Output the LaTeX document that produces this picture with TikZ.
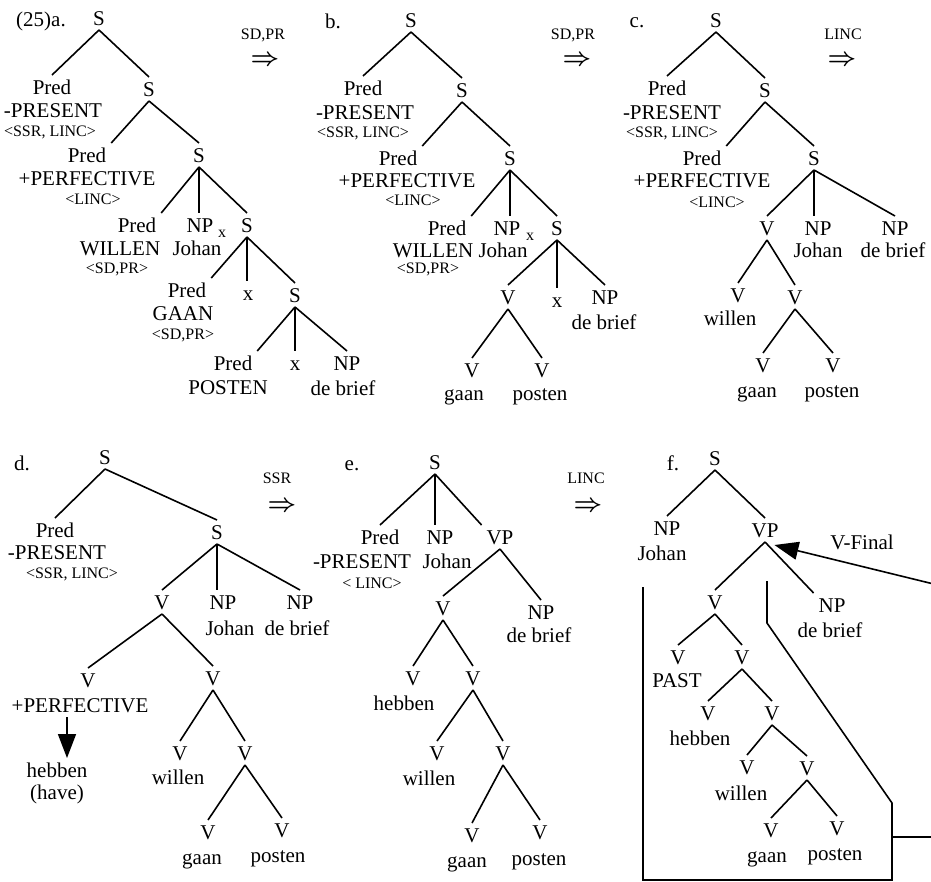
\documentclass[tikz,border=0pt]{standalone}
\usepackage{fontspec}
\setmainfont{Liberation Serif}
\usetikzlibrary{arrows.meta}
\newcommand\fs[1]{\fontsize{#1}{#1}\selectfont}
\begin{document}
\begin{tikzpicture}[x=1pt,y=-1pt,line width=1.6pt,
	cat/.style={font=\fs{21},inner sep=0pt,outer sep=5pt,text height=14pt,text depth=0pt},
	sm/.style={font=\fs{16},inner sep=0pt,text height=11pt,text depth=0pt},
	rarr/.style={font=\fs{25}\boldmath,inner sep=0pt},
	tri/.style={-{Triangle[length=24pt,width=18pt]}}]
	\useasboundingbox (0,0) rectangle (931,881);
	% (25)a.
	\node[cat] (aLab) at (41,19) {(25)a.};
	\node[cat] (aS) at (99,18) {S};
	\node[cat] (aP1) at (52,87) {Pred};
	\node[cat] (aP1w) at (53,110) {-PRESENT};
	\node[sm] (aP1r) at (50,131) {<SSR, LINC>};
	\node[cat] (aS2) at (149,89) {S};
	\node[cat] (aP2) at (87,155) {Pred};
	\node[cat] (aP2w) at (87,178) {+PERFECTIVE};
	\node[sm] (aP2r) at (93,199) {<LINC>};
	\node[cat] (aS3) at (199,155) {S};
	\node[cat] (aP3) at (137,225) {Pred};
	\node[cat] (aP3w) at (120,248) {WILLEN};
	\node[sm] (aP3r) at (117,268) {<SD,PR>};
	\node[cat] (aNP) at (200,225) {NP};
	\node[sm] (aNPx) at (222,232) {x};
	\node[cat] (aNPw) at (197,248) {Johan};
	\node[cat] (aS4) at (247,225) {S};
	\node[cat] (aP4) at (187,290) {Pred};
	\node[cat] (aP4w) at (183,313) {GAAN};
	\node[sm] (aP4r) at (183,334) {<SD,PR>};
	\node[cat] (aX1) at (248,293) {x};
	\node[cat] (aS5) at (295,295) {S};
	\node[cat] (aP5) at (233,363) {Pred};
	\node[cat] (aP5w) at (228,387) {POSTEN};
	\node[cat] (aX2) at (295,363) {x};
	\node[cat] (aNP2) at (347,363) {NP};
	\node[cat] (aNP2w) at (343,388) {de brief};
	\node[sm] (aRule) at (263,34) {SD,PR};
	\node[rarr] (aArr) at (265,61) {$\Rightarrow$};
	% b.
	\node[cat] (bLab) at (333,21) {b.};
	\node[cat] (bS) at (411,20) {S};
	\node[cat] (bP1) at (363,88) {Pred};
	\node[cat] (bP1w) at (365,112) {-PRESENT};
	\node[sm] (bP1r) at (363,132) {<SSR, LINC>};
	\node[cat] (bS2) at (462,90) {S};
	\node[cat] (bP2) at (398,158) {Pred};
	\node[cat] (bP2w) at (407,180) {+PERFECTIVE};
	\node[sm] (bP2r) at (413,200) {<LINC>};
	\node[cat] (bS3) at (510,158) {S};
	\node[cat] (bP3) at (447,228) {Pred};
	\node[cat] (bP3w) at (433,250) {WILLEN};
	\node[sm] (bP3r) at (428,268) {<SD,PR>};
	\node[cat] (bNP) at (507,228) {NP};
	\node[sm] (bNPx) at (530,235) {x};
	\node[cat] (bNPw) at (503,250) {Johan};
	\node[cat] (bS4) at (557,228) {S};
	\node[cat] (bV) at (508,297) {V};
	\node[cat] (bX) at (557,300) {x};
	\node[cat] (bNP2) at (605,297) {NP};
	\node[cat] (bNP2w) at (604,322) {de brief};
	\node[cat] (bV1) at (472,370) {V};
	\node[cat] (bV1w) at (464,393) {gaan};
	\node[cat] (bV2) at (542,370) {V};
	\node[cat] (bV2w) at (540,393) {posten};
	\node[sm] (bRule) at (573,34) {SD,PR};
	\node[rarr] (bArr) at (577,61) {$\Rightarrow$};
	% c.
	\node[cat] (cLab) at (637,20) {c.};
	\node[cat] (cS) at (716,20) {S};
	\node[cat] (cP1) at (667,88) {Pred};
	\node[cat] (cP1w) at (672,112) {-PRESENT};
	\node[sm] (cP1r) at (672,132) {<SSR, LINC>};
	\node[cat] (cS2) at (765,90) {S};
	\node[cat] (cP2) at (702,158) {Pred};
	\node[cat] (cP2w) at (702,180) {+PERFECTIVE};
	\node[sm] (cP2r) at (717,202) {<LINC>};
	\node[cat] (cS3) at (814,158) {S};
	\node[cat] (cV) at (767,228) {V};
	\node[cat] (cNP) at (818,228) {NP};
	\node[cat] (cNPw) at (818,250) {Johan};
	\node[cat] (cNP2) at (895,228) {NP};
	\node[cat] (cNP2w) at (893,250) {de brief};
	\node[cat] (cV1) at (738,295) {V};
	\node[cat] (cV1w) at (730,318) {willen};
	\node[cat] (cV2) at (795,297) {V};
	\node[cat] (cV3) at (763,365) {V};
	\node[cat] (cV3w) at (757,390) {gaan};
	\node[cat] (cV4) at (833,365) {V};
	\node[cat] (cV4w) at (832,390) {posten};
	\node[sm] (cRule) at (843,34) {LINC};
	\node[rarr] (cArr) at (842,61) {$\Rightarrow$};
	% d.
	\node[cat] (dLab) at (22,463) {d.};
	\node[cat] (dS) at (105,457) {S};
	\node[cat] (dP) at (55,530) {Pred};
	\node[cat] (dPw) at (57,552) {-PRESENT};
	\node[sm] (dPr) at (72,573) {<SSR, LINC>};
	\node[cat] (dS2) at (217,532) {S};
	\node[cat] (dV) at (162,602) {V};
	\node[cat] (dNP) at (223,602) {NP};
	\node[cat] (dNPw) at (230,628) {Johan};
	\node[cat] (dNP2) at (300,602) {NP};
	\node[cat] (dNP2w) at (297,628) {de brief};
	\node[cat] (dV1) at (88,680) {V};
	\node[cat] (dV1w) at (80,705) {+PERFECTIVE};
	\node[cat] (dHeb) at (57,770) {hebben};
	\node[cat] (dHave) at (57,792) {(have)};
	\node[cat] (dV2) at (213,678) {V};
	\node[cat] (dV3) at (180,753) {V};
	\node[cat] (dV3w) at (178,777) {willen};
	\node[cat] (dV4) at (245,753) {V};
	\node[cat] (dV5) at (208,832) {V};
	\node[cat] (dV5w) at (202,857) {gaan};
	\node[cat] (dV6) at (282,830) {V};
	\node[cat] (dV6w) at (278,855) {posten};
	\node[sm] (dRule) at (277,478) {SSR};
	\node[rarr] (dArr) at (282,507) {$\Rightarrow$};
	% e.
	\node[cat] (eLab) at (352,463) {e.};
	\node[cat] (eS) at (435,462) {S};
	\node[cat] (eP) at (380,537) {Pred};
	\node[cat] (ePw) at (362,561) {-PRESENT};
	\node[sm] (ePr) at (372,583) {< LINC>};
	\node[cat] (eNP) at (440,537) {NP};
	\node[cat] (eNPw) at (447,561) {Johan};
	\node[cat] (eVP) at (500,537) {VP};
	\node[cat] (eV) at (443,608) {V};
	\node[cat] (eNP2) at (541,612) {NP};
	\node[cat] (eNP2w) at (539,635) {de brief};
	\node[cat] (eV1) at (413,678) {V};
	\node[cat] (eV1w) at (404,703) {hebben};
	\node[cat] (eV2) at (473,678) {V};
	\node[cat] (eV3) at (437,753) {V};
	\node[cat] (eV3w) at (429,778) {willen};
	\node[cat] (eV4) at (503,753) {V};
	\node[cat] (eV5) at (472,835) {V};
	\node[cat] (eV5w) at (467,860) {gaan};
	\node[cat] (eV6) at (540,832) {V};
	\node[cat] (eV6w) at (539,858) {posten};
	\node[sm] (eRule) at (586,478) {LINC};
	\node[rarr] (eArr) at (588,507) {$\Rightarrow$};
	% f.
	\node[cat] (fLab) at (673,463) {f.};
	\node[cat] (fS) at (715,458) {S};
	\node[cat] (fNP) at (667,528) {NP};
	\node[cat] (fNPw) at (662,553) {Johan};
	\node[cat] (fVP) at (765,530) {VP};
	\node[cat] (fV) at (715,602) {V};
	\node[cat] (fNP2) at (832,605) {NP};
	\node[cat] (fNP2w) at (830,630) {de brief};
	\node[cat] (fV1) at (678,657) {V};
	\node[cat] (fV1w) at (677,680) {PAST};
	\node[cat] (fV2) at (742,657) {V};
	\node[cat] (fV3) at (708,713) {V};
	\node[cat] (fV3w) at (700,738) {hebben};
	\node[cat] (fV4) at (772,713) {V};
	\node[cat] (fV5) at (747,767) {V};
	\node[cat] (fV5w) at (741,793) {willen};
	\node[cat] (fV6) at (807,768) {V};
	\node[cat] (fV7) at (771,830) {V};
	\node[cat] (fV7w) at (767,855) {gaan};
	\node[cat] (fV8) at (837,828) {V};
	\node[cat] (fV8w) at (835,853) {posten};
	\node[cat] (fFin) at (862,542) {V-Final};
	% branches
	\foreach \p/\c in {aS/aP1.north,aS/aS2.north,aS2/aP2.north east,aS2/aS3.north,aS3/aP3.north east,aS3/aS4.north,
		aS4/aP4.north east,aS4/aS5.north,aS5/aP5.north east,aS5/aNP2.north,
		bS/bP1.north,bS/bS2.north,bS2/bP2.north east,bS2/bS3.north,bS3/bP3.north east,bS3/bS4.north,
		bS4/bV.north,bS4/bNP2.north,bV/bV1.north,bV/bV2.north,
		cS/cP1.north,cS/cS2.north,cS2/cP2.north east,cS2/cS3.north,cS3/cV.north,cS3/cNP2.north,
		cV/cV1.north,cV/cV2.north,cV2/cV3.north,cV2/cV4.north,
		dS/dP.north,dS/dS2.north,dS2/dV.north,dS2/dNP2.north,dV/dV1.north,dV/dV2.north,
		dV2/dV3.north,dV2/dV4.north,dV4/dV5.north,dV4/dV6.north,
		eS/eP.north,eS/eVP.north west,eVP/eV.north,eVP/eNP2.north,eV/eV1.north,eV/eV2.north,
		eV2/eV3.north,eV2/eV4.north,eV4/eV5.north,eV4/eV6.north,
		fS/fNP.north,fS/fVP.north,fVP/fV.north,fVP/fNP2.north west,fV/fV1.north,fV/fV2.north,
		fV2/fV3.north,fV2/fV4.north,fV4/fV5.north,fV4/fV6.north,fV6/fV7.north,fV6/fV8.north}
		\draw (\p.south) -- (\c);
	\foreach \p/\c in {aS3/aNP,aS4/aX1,aS5/aX2,bS3/bNP,bS4/bX,cS3/cNP,dS2/dNP,eS/eNP}
		\draw (\p.south) -- (\p.south |- \c.north);
	% hebben, V-Final
	\draw[tri] (dV1w.south -| 67,0) -- (dHeb.north -| 67,0);
	\coordinate (vfin) at (950,588);
	\draw[tri] (vfin) -- ([xshift=-9pt,yshift=-3pt]fVP.south east);
	\draw (643,587) -- (643,880) -- (892,880) -- (892,803) -- (767,623) -- (767,581);
	\draw (892,837) -- (940,837);
\end{tikzpicture}
\end{document}
